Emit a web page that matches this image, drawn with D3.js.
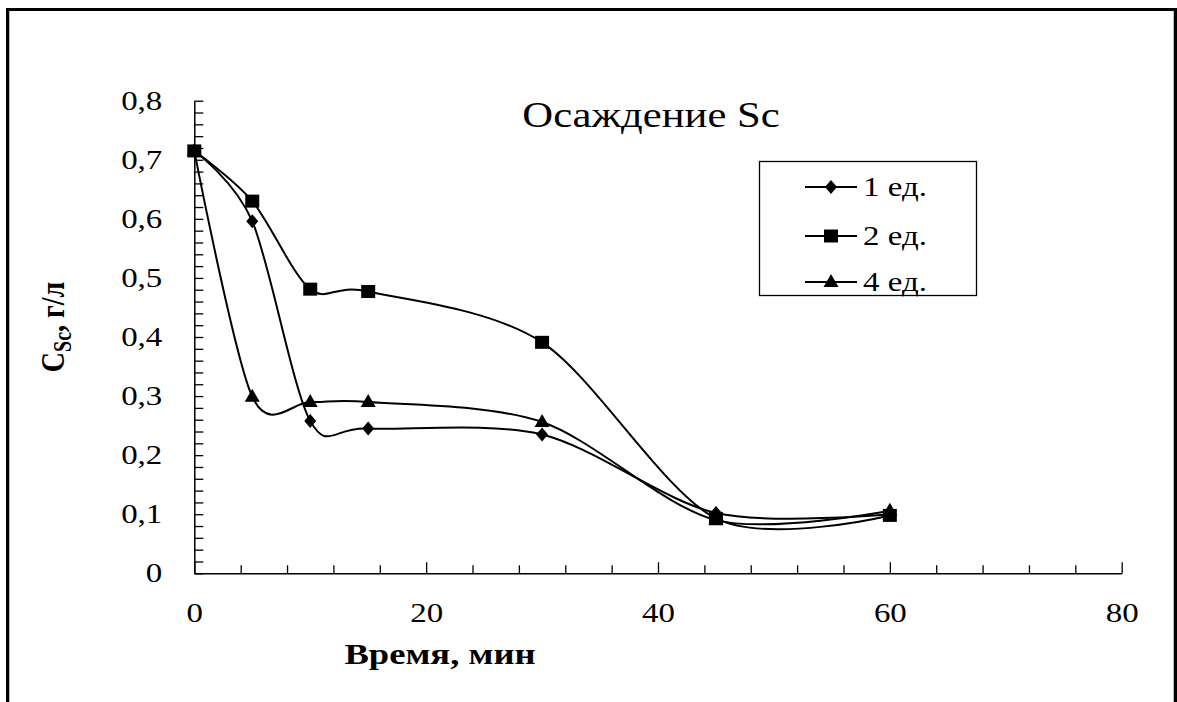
<!DOCTYPE html>
<html><head><meta charset="utf-8">
<script src="https://cdn.jsdelivr.net/npm/d3@7"></script>
<style>
html,body{margin:0;padding:0;background:#fff;}
svg{display:block;}
text{font-family:"Liberation Serif","Times New Roman",serif;fill:#000;}
</style></head>
<body>
<script>
// ---- data ----
const times = [0, 5, 10, 15, 30, 45, 60];
const seriesNames = ["1 ед.", "2 ед.", "4 ед."];
const series1 = [0.715, 0.596, 0.258, 0.245, 0.235, 0.102, 0.100];
const series2 = [0.715, 0.630, 0.481, 0.477, 0.391, 0.093, 0.098];
const series3 = [0.715, 0.299, 0.290, 0.290, 0.256, 0.090, 0.106];
const markerTypes = ["diamond", "square", "triangle"];
const xTickLabels = [0, 20, 40, 60, 80];
const yTickLabels = [0, 0.1, 0.2, 0.3, 0.4, 0.5, 0.6, 0.7, 0.8];
const titleText = "Осаждение Sc";
const xTitle = "Время, мин";

const W = 1177, H = 702, SX = 1.22;
const svg = d3.select("body").append("svg").attr("width", W).attr("height", H);

// frame
svg.append("line").attr("x1",9.5).attr("x2",9.5).attr("y1",11).attr("y2",H).attr("stroke","#bbb").attr("stroke-width",1);
svg.append("line").attr("x1",1173.5).attr("x2",1173.5).attr("y1",11).attr("y2",H).attr("stroke","#bbb").attr("stroke-width",1);
svg.append("rect").attr("x",7.5).attr("y",9.5).attr("width",1168).attr("height",H+20)
  .attr("fill","none").attr("stroke","#000").attr("stroke-width",3);

const x = d3.scaleLinear().domain([0, 80]).range([194.3, 1121.7]);
const y = d3.scaleLinear().domain([0, 0.8]).range([573.3, 100.7]);

const fmt = d => d === 0 ? "0" : d3.format(".1f")(d).replace(".", ",");

// x axis: minor ticks
const xMinor = d3.range(0, 81, 4).filter(v => v % 20 !== 0);
svg.append("g").attr("transform", `translate(0,${y(0)})`)
  .call(d3.axisBottom(x).tickValues(xMinor).tickSize(-8).tickFormat("").tickSizeOuter(0))
  .call(g => g.select(".domain").remove())
  .call(g => g.selectAll("line").attr("stroke","#000").attr("stroke-width",1.3));
const xAx = svg.append("g").attr("transform", `translate(0,${y(0)})`)
  .call(d3.axisBottom(x).tickValues(xTickLabels).tickSize(-11).tickSizeOuter(0).tickFormat(d3.format("d")));
xAx.select(".domain").attr("stroke","#000").attr("stroke-width",1.5);
xAx.selectAll("line").attr("stroke","#000").attr("stroke-width",1.3);
xAx.selectAll("text").attr("y", 49).attr("dy", 0).attr("font-size", 27)
  .attr("font-family","Liberation Serif").attr("transform", `scale(${SX},1)`);

// y axis
const yMinor = d3.range(0, 41).map(i => i * 0.02);
const yAx = svg.append("g").attr("transform", `translate(${x(0)},0)`)
  .call(d3.axisLeft(y).tickValues(yMinor).tickSize(-9).tickSizeOuter(0).tickFormat(""));
yAx.select(".domain").attr("stroke","#000").attr("stroke-width",1.5);
yAx.selectAll("line").attr("stroke","#000").attr("stroke-width",1.3);
const yLab = svg.append("g").attr("transform", `translate(${x(0)},0)`)
  .call(d3.axisLeft(y).tickValues(yTickLabels).tickSize(0).tickFormat(fmt));
yLab.select(".domain").remove();
yLab.selectAll("text").attr("x", -32 / SX).attr("font-size", 27)
  .attr("font-family","Liberation Serif").attr("transform", `scale(${SX},1)`);

function stretchedText(px, py, str, size, opts = {}) {
  const g = svg.append("g").attr("transform", `translate(${px},${py}) scale(${SX},1)${opts.rotate ? " rotate(-90)" : ""}`);
  const t = g.append("text").attr("font-size", size).attr("text-anchor", opts.anchor || "start");
  if (opts.bold) t.attr("font-weight", "bold");
  if (str != null) t.text(str);
  return t;
}

// title
stretchedText(651, 127, titleText, 35, {anchor: "middle"});
// x axis title
stretchedText(440, 664, xTitle, 30, {anchor: "middle", bold: true});
// y axis title
const yt = stretchedText(64, 327, null, 28, {anchor: "middle", bold: true, rotate: true});
yt.append("tspan").text("C");
yt.append("tspan").attr("font-size", 20).attr("dy", 6).text("Sc");
yt.append("tspan").attr("dy", -6).text(", г/л");

// series
const allSeries = [series1, series2, series3];
const line = d3.line().x((d, i) => x(times[i])).y(d => y(d)).curve(d3.curveCardinal.tension(0.1));

function drawMarker(g, type, cx, cy) {
  if (type === "diamond") {
    g.append("path").attr("d", `M${cx},${cy-7}L${cx+6},${cy}L${cx},${cy+7}L${cx-6},${cy}Z`).attr("fill","#000");
  } else if (type === "square") {
    g.append("rect").attr("x", cx-7).attr("y", cy-6.5).attr("width", 14).attr("height", 13).attr("fill","#000");
  } else {
    g.append("path").attr("d", `M${cx},${cy-8}L${cx+7.5},${cy+5}L${cx-7.5},${cy+5}Z`).attr("fill","#000");
  }
}

allSeries.forEach((vals, si) => {
  svg.append("path").attr("d", line(vals)).attr("fill","none").attr("stroke","#000").attr("stroke-width",2);
});
allSeries.forEach((vals, si) => {
  const g = svg.append("g");
  vals.forEach((v, i) => drawMarker(g, markerTypes[si], x(times[i]), y(v)));
});

// legend
svg.append("rect").attr("x",759.5).attr("y",161.5).attr("width",217).attr("height",134)
  .attr("fill","#fff").attr("stroke","#000").attr("stroke-width",1.3);
const legY = [187, 236, 282];
seriesNames.forEach((name, i) => {
  const g = svg.append("g");
  g.append("line").attr("x1",805).attr("x2",857).attr("y1",legY[i]).attr("y2",legY[i]).attr("stroke","#000").attr("stroke-width",2);
  drawMarker(g, markerTypes[i], 831, legY[i]);
  stretchedText(863, legY[i] + 9, name, 27);
});
</script>
</body></html>
